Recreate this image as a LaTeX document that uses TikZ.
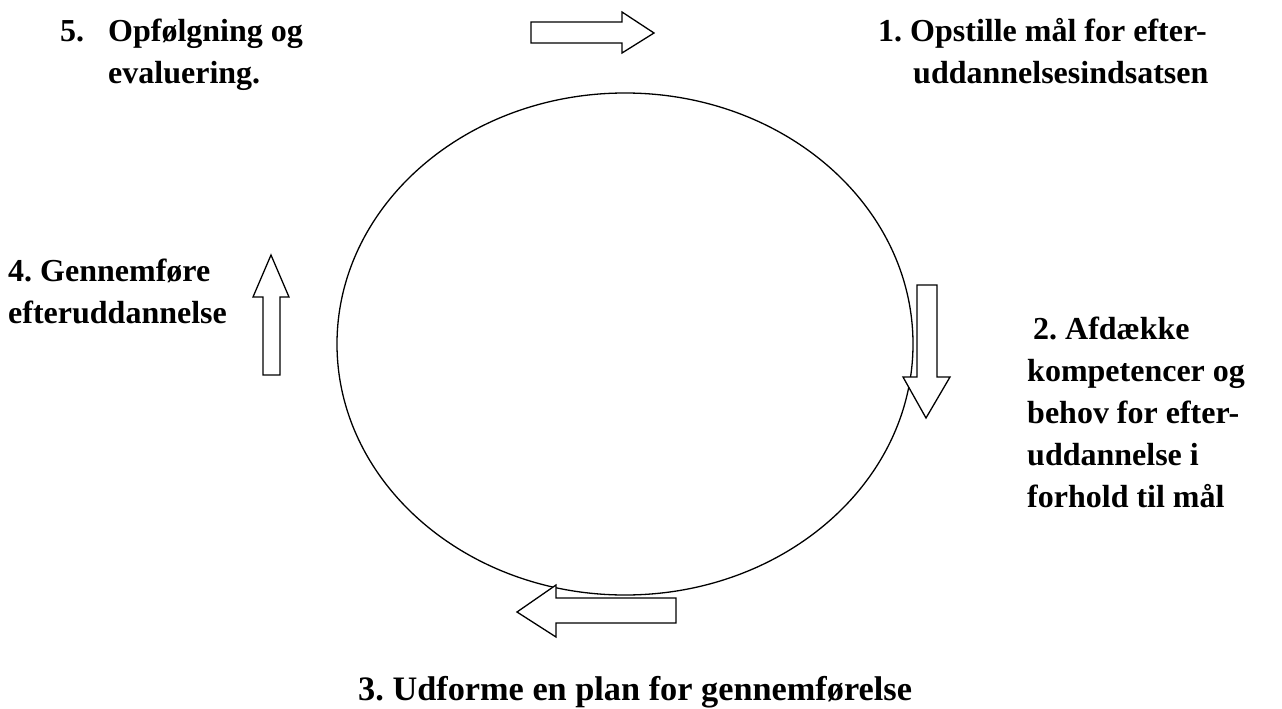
\documentclass[tikz,border=0pt]{standalone}
\usepackage{fontspec}
\setmainfont{Liberation Serif}
\frenchspacing
\begin{document}
\begin{tikzpicture}[x=1pt,y=-1pt,
  lbl/.style={anchor=base west,inner sep=0pt,align=left,
    font=\fontsize{32}{42}\selectfont\bfseries},
  blockarrow/.style={draw=black,line width=1.3pt,line join=miter,fill=white},
  cycle line/.style={draw=black,line width=1.3pt}]
\useasboundingbox (0,0) rectangle (1282,709);
% cycle
\path[cycle line] (625,344) ellipse (288pt and 251pt);
% labels (base anchor = baseline of the last line)
\node[lbl] (l5) at (60,84) {\makebox[48pt][l]{5.}Opfølgning og\\\hspace*{48pt}evaluering.};
\node[lbl] (l1) at (878,84) {1. Opstille mål for efter-\\\hspace*{35pt}uddannelsesindsatsen};
\node[lbl] (l4) at (8,323) {4. Gennemføre\\efteruddannelse};
\node[lbl] (l2) at (1027,507) {\hspace*{6pt}2. Afdække\\kompetencer og\\behov for efter-\\uddannelse i\\forhold til mål};
\node[lbl,font=\fontsize{34.3}{42}\selectfont\bfseries] (l3) at (358,700) {3. Udforme en plan for gennemførelse};
% arrows
\path[blockarrow] (531,22) -- (622,22) -- (622,12) -- (654,33) -- (622,53) -- (622,43) -- (531,43) -- cycle;
\path[blockarrow] (917,285) -- (937,285) -- (937,377) -- (950,377) -- (926,418) -- (903,377) -- (917,377) -- cycle;
\path[blockarrow] (676,598) -- (556,598) -- (556,585) -- (517,612) -- (556,637) -- (556,623) -- (676,623) -- cycle;
\path[blockarrow] (263,375) -- (263,297) -- (253,297) -- (271,255) -- (289,297) -- (280,297) -- (280,375) -- cycle;
\end{tikzpicture}
\end{document}
